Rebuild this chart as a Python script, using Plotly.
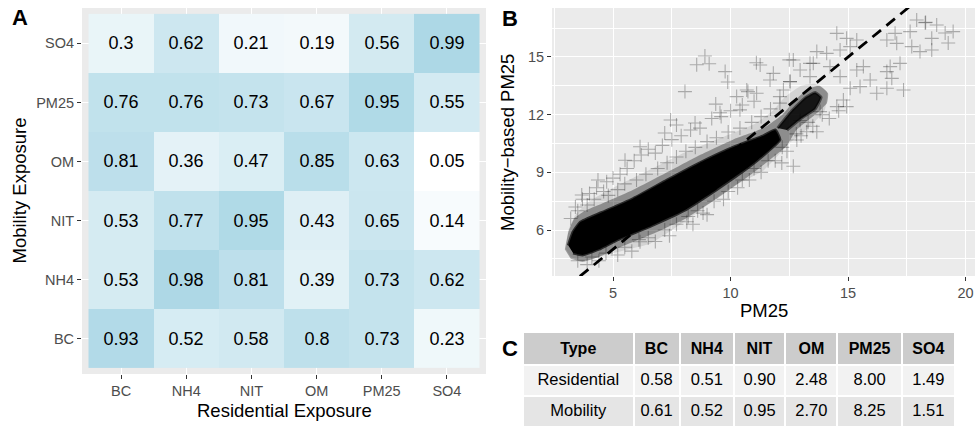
import plotly.graph_objects as go

W, H = 976, 427
FONT = "Liberation Sans, Arial, sans-serif"

# ---------------- Panel A data: correlation matrix ----------------
species = ["BC", "NH4", "NIT", "OM", "PM25", "SO4"]
# rows = Mobility exposure (y), columns = Residential exposure (x)
corr_BC = [0.93, 0.52, 0.58, 0.8, 0.73, 0.23]
corr_NH4 = [0.53, 0.98, 0.81, 0.39, 0.73, 0.62]
corr_NIT = [0.53, 0.77, 0.95, 0.43, 0.65, 0.14]
corr_OM = [0.81, 0.36, 0.47, 0.85, 0.63, 0.05]
corr_PM25 = [0.76, 0.76, 0.73, 0.67, 0.95, 0.55]
corr_SO4 = [0.3, 0.62, 0.21, 0.19, 0.56, 0.99]

# ---------------- Panel B data: PM25 residential vs mobility ----------------
# dense core of the point cloud (outline)
core_x = [3.1, 3.3, 3.6, 4.5, 5.8, 7.3, 8.7, 10.1, 11.4, 11.9, 12.1, 11.6, 10.8, 9.4, 8.0, 6.6, 5.2, 4.4, 3.7, 3.3]
core_y = [5.2, 5.9, 6.4, 6.9, 7.6, 8.6, 9.5, 10.3, 10.9, 11.2, 10.7, 10.1, 9.3, 8.1, 7.0, 6.2, 5.5, 5.0, 4.7, 4.8]
# dense cluster near (13, 12.5)
cluster_x = [12.0, 12.6, 13.2, 13.6, 13.85, 13.6, 13.0, 12.4]
cluster_y = [11.3, 12.2, 12.9, 13.15, 12.9, 12.3, 11.8, 11.2]
# darker fringe hugging the core
fringe_x = [2.95, 3.1, 3.35, 3.8, 4.5, 5.8, 7.3, 8.7, 10.1, 11.4, 12.2, 12.7, 13.3, 13.8, 14.15,
            14.1, 13.5, 12.8, 12.4, 11.0, 9.5, 8.1, 6.7, 5.3, 4.4, 3.7, 3.2]
fringe_y = [5.0, 5.9, 6.6, 7.0, 7.35, 8.05, 9.0, 9.9, 10.7, 11.3, 12.0, 12.7, 13.35, 13.5, 13.1,
            12.6, 11.9, 11.2, 10.4, 9.0, 7.7, 6.6, 5.8, 5.1, 4.6, 4.35, 4.5]
# faint outer halo
halo_x = [3.0, 3.1, 3.4, 4.0, 5.0, 6.0, 7.0, 8.0, 9.0, 10.0, 11.0, 11.8, 12.3, 13.0, 13.6, 14.1,
          14.0, 13.3, 12.5, 11.4, 10.0, 8.7, 8.0, 6.6, 5.0, 3.7, 3.2]
halo_y = [5.0, 6.0, 6.8, 7.5, 8.2, 8.8, 9.4, 10.0, 10.5, 11.0, 11.5, 12.2, 12.9, 13.5, 13.6, 13.2,
          12.2, 11.3, 10.5, 9.1, 8.2, 7.0, 6.4, 5.3, 4.8, 4.4, 4.6]
# individual sparse points
pts_x = [8.91, 8.56, 9.09, 9.77, 9.88, 8.06, 9.37, 9.55, 7.45, 7.2, 7.7, 8.49, 6.15, 5.51, 10.26, 10.4, 10.74,
         4.36, 4.73, 3.67, 6.15, 8.14, 8.83,
         18.28, 18.3, 17.92, 18.77, 19.13, 19.47, 19.26, 18.56, 18.06, 17.71, 18.56, 17.64, 17.0, 16.65, 17.07,
         14.52, 14.94, 15.37, 14.66, 15.09, 14.09, 13.67, 16.79, 16.65, 16.86, 17.21, 15.65, 15.37, 15.94,
         15.51, 16.22, 16.65, 17.36, 15.09, 14.66, 14.23, 13.52, 13.38, 12.67, 12.96, 12.53, 14.8, 14.52,
         14.94, 12.25, 12.82, 13.67, 13.24, 12.67, 12.18, 12.96, 13.81, 11.68, 12.53, 11.11, 12.1, 10.69,
         11.26, 11.82, 13.38, 11.1, 12.5,
         3.4, 3.7, 4.0, 4.3, 4.6, 5.0, 5.3, 5.6, 5.9, 6.2, 6.5, 6.8, 7.1, 7.5, 7.9, 8.3, 8.7, 9.2, 9.6,
         10.0, 10.5, 11.0, 3.9, 4.4, 5.2, 5.8, 6.8, 7.4, 8.4, 9.0, 9.7, 10.3, 10.8, 11.3, 11.9, 12.4,
         13.0, 13.5, 14.2, 14.6,
         3.2, 3.5, 3.9, 4.2, 4.8, 5.2, 5.5, 6.0, 6.4, 6.9, 7.3, 7.7, 8.1, 8.5, 9.0, 9.4, 9.9, 10.4, 10.9,
         11.3, 11.7, 12.1, 3.5, 4.1, 4.7, 5.5, 6.1, 6.5, 7.2, 7.7, 8.2, 8.6, 9.3, 9.9, 10.5, 11.0, 11.6,
         12.2, 12.8, 13.3, 13.9]
pts_y = [15.05, 14.6, 14.65, 14.24, 13.7, 13.2, 12.55, 12.1, 11.72, 11.05, 11.46, 11.57, 10.33, 9.63, 12.94, 12.25, 13.2,
         8.6, 8.51, 7.82, 5.39, 6.43, 6.88,
         16.78, 16.8, 16.92, 16.66, 16.25, 16.32, 15.73, 15.36, 15.28, 15.54, 15.97, 16.32, 16.23, 15.88, 15.71,
         16.23, 15.97, 15.88, 15.36, 15.54, 15.19, 15.28, 14.5, 14.24, 13.89, 14.67, 14.5, 14.32, 13.8,
         13.46, 13.11, 13.37, 13.28, 13.37, 13.98, 14.5, 14.67, 13.98, 14.84, 14.32, 13.72, 12.76, 12.42,
         12.42, 13.28, 10.68, 11.11, 11.11, 9.32, 9.49, 11.7, 12.16, 13.8, 13.72, 13.11, 12.94, 13.28,
         14.58, 14.15, 14.67, 14.7, 14.85,
         7.2, 7.6, 7.9, 8.2, 8.0, 8.7, 8.9, 9.2, 9.6, 9.9, 10.2, 10.0, 10.4, 10.7, 10.9, 11.2, 11.3, 11.8, 11.9,
         12.2, 12.5, 12.7, 4.2, 4.4, 4.7, 4.9, 5.4, 5.7, 6.3, 6.8, 7.6, 8.2, 8.6, 9.0, 9.6, 10.1,
         10.9, 11.4, 11.8, 12.2,
         6.6, 7.0, 7.3, 7.6, 7.8, 8.1, 8.4, 8.6, 8.9, 9.2, 9.5, 9.8, 10.1, 10.3, 10.6, 10.8, 11.1, 11.3, 11.6,
         11.9, 12.3, 12.6, 4.4, 4.6, 4.8, 5.1, 5.5, 5.6, 6.0, 6.3, 6.7, 7.0, 7.5, 8.0, 8.6, 9.2, 9.6,
         10.3, 11.0, 11.6, 12.0]

# ---------------- Panel C data: summary table ----------------
table_header = ["Type", "BC", "NH4", "NIT", "OM", "PM25", "SO4"]
row_types = ["Residential", "Mobility"]
residential_means = ["0.58", "0.51", "0.90", "2.48", "8.00", "1.49"]
mobility_means = ["0.61", "0.52", "0.95", "2.70", "8.25", "1.51"]

# ---------------- layout geometry (pixels) ----------------
def px_x(p):
    return p / W

def px_y(p):
    return 1 - p / H

A_left, A_right, A_top, A_bot = 82, 486, 8, 374
B_left, B_right, B_top, B_bot = 552, 975, 8, 276
B_xrange = [2.404, 20.40]
B_yrange = [3.608, 17.548]

z = [corr_BC, corr_NH4, corr_NIT, corr_OM, corr_PM25, corr_SO4]
text = [[str(v) for v in row] for row in z]

fig = go.Figure()

fig.add_trace(go.Heatmap(
    x=species, y=species, z=z, text=text, texttemplate="%{text}",
    textfont=dict(family=FONT, size=18, color="black"),
    colorscale=[[0, "#ffffff"], [1, "#add8e6"]], zmin=min(map(min, z)), zmax=max(map(max, z)),
    showscale=False, hoverinfo="skip", xaxis="x", yaxis="y"))

# Panel B traces
def poly(xs, ys, fill, edge, w):
    return go.Scatter(x=xs, y=ys, fill="toself", fillcolor=fill, mode="lines",
                      line=dict(width=w, color=edge, shape="spline", smoothing=0.4),
                      hoverinfo="skip", xaxis="x2", yaxis="y2")

fig.add_trace(poly(halo_x, halo_y, "rgba(0,0,0,0.10)", "rgba(0,0,0,0)", 0))
fig.add_trace(poly(fringe_x, fringe_y, "rgba(0,0,0,0.33)", "rgba(0,0,0,0)", 0))
fig.add_trace(go.Scatter(x=pts_x, y=pts_y, mode="markers",
                         marker=dict(symbol="cross-thin-open", size=10, color="rgba(0,0,0,0.28)",
                                     line=dict(width=1.1, color="rgba(0,0,0,0.28)")),
                         hoverinfo="skip", xaxis="x2", yaxis="y2"))
fig.add_trace(poly(core_x, core_y, "black", "rgba(0,0,0,0.7)", 3))
fig.add_trace(poly(cluster_x, cluster_y, "rgba(0,0,0,0.85)", "rgba(0,0,0,0.5)", 3))
fig.add_trace(go.Scatter(x=B_xrange, y=B_xrange, mode="lines",
                         line=dict(color="black", width=2.8, dash="11px,7px"),
                         hoverinfo="skip", xaxis="x2", yaxis="y2"))

# Panel C table
colw = [110, 46, 54, 51, 52, 64, 53]
cells_vals = [row_types] + [[r, m] for r, m in zip(residential_means, mobility_means)]
fig.add_trace(go.Table(
    domain=dict(x=[px_x(523), px_x(955)], y=[0, px_y(332)]),
    columnwidth=colw,
    header=dict(values=["<b>%s</b>" % h for h in table_header],
                fill_color="#cccccc", line=dict(color="white", width=2),
                font=dict(family=FONT, size=16, color="black"), align="center", height=30),
    cells=dict(values=cells_vals,
               fill_color=[["#f2f2f2", "#e5e5e5"]] * len(table_header),
               line=dict(color="white", width=2),
               font=dict(family=FONT, size=16.5, color="black"), align="center", height=31)))

tickfont = dict(family=FONT, size=14.5, color="#4d4d4d")
common = dict(ticks="outside", ticklen=4, tickwidth=1, tickcolor="#333333", tickfont=tickfont,
              showgrid=True, gridcolor="white", gridwidth=1.1, zeroline=False, showline=False)

fig.update_layout(
    width=W, height=H, margin=dict(l=0, r=0, t=0, b=0),
    paper_bgcolor="white", plot_bgcolor="#ebebeb", showlegend=False,
    font=dict(family=FONT),
    xaxis=dict(domain=[px_x(A_left), px_x(A_right)], range=[-0.6, 5.6], anchor="y",
               type="category", **common),
    yaxis=dict(domain=[px_y(A_bot), px_y(A_top)], range=[-0.6, 5.6], anchor="x",
               type="category", **common),
    xaxis2=dict(domain=[px_x(B_left), px_x(B_right)], range=B_xrange, anchor="y2",
                tick0=0, dtick=5,
                minor=dict(tick0=0, dtick=2.5, showgrid=True, gridcolor="white", gridwidth=0.5),
                **common),
    yaxis2=dict(domain=[px_y(B_bot), px_y(B_top)], range=B_yrange, anchor="x2",
                tick0=0, dtick=3,
                minor=dict(tick0=0, dtick=1.5, showgrid=True, gridcolor="white", gridwidth=0.5),
                **common),
)

ann = []
def add_text(txt, x, y, size, angle=0, bold=False):
    ann.append(dict(text=("<b>%s</b>" % txt) if bold else txt, x=px_x(x), y=px_y(y),
                    xref="paper", yref="paper", showarrow=False, textangle=angle,
                    xanchor="center", yanchor="middle",
                    font=dict(family=FONT, size=size, color="black")))

add_text("Residential Exposure", (A_left + A_right) / 2, 410, 18.5)
add_text("Mobility Exposure", 18.5, (A_top + A_bot) / 2, 18.5, angle=-90)
add_text("PM25", (B_left + B_right) / 2, 310, 18.5)
add_text("Mobility\u2212based PM25", 508, (B_top + B_bot) / 2, 18.5, angle=-90)
add_text("A", 20, 17, 22, bold=True)
add_text("B", 510, 18, 22, bold=True)
add_text("C", 510, 348, 22, bold=True)
fig.update_layout(annotations=ann)

fig.write_html("out.html")
